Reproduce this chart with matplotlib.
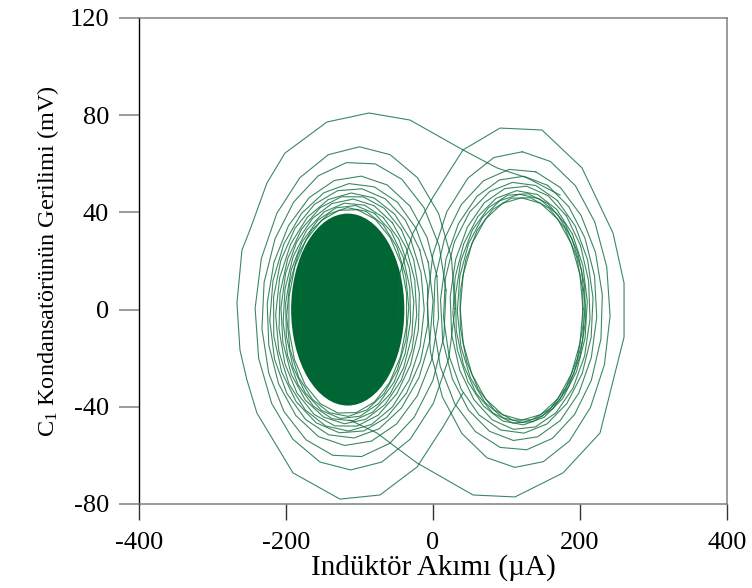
import numpy as np
import matplotlib
matplotlib.use("Agg")
import matplotlib.pyplot as plt
from matplotlib.patches import Ellipse

plt.rcParams['font.family'] = ['Liberation Serif', 'DejaVu Serif']
plt.rcParams['mathtext.fontset'] = 'custom'
plt.rcParams['mathtext.rm'] = 'Liberation Serif'

# eksen etiketleri
x_ticks = [-400, -200, 0, 200, 400]
y_ticks = [-80, -40, 0, 40, 80, 120]

# sol cekerdeki yogun bolge (merkez, genislik, yukseklik)
dense_center = (-116, 0)
dense_w = 154
dense_h = 79

# sol halka ailesi: sol kenar, sag kenar, tepe, dip, egiklik
left_xl = [-242, -233, -226, -222, -218, -214, -210, -207, -204, -201, -199, -197]
left_xr = [30, 18, 8, 0, -6, -12, -18, -22, -26, -30, -33, -35]
left_yt = [67, 61, 55, 52, 50, 48, 47, 45.5, 44, 43, 42, 41.5]
left_yb = [-66, -61, -56, -53, -51, -50, -48.5, -47, -46, -45, -44, -43]
left_sh = [6, 6, 5, 5, 4, 4, 4, 3, 3, 3, 3, 2]

# sag halka ailesi
right_xl = [37, 36, 33, 30, 27, 23, 14, 10, 0, -8]
right_xr = [204, 205, 207, 208, 210, 214, 218, 223, 231, 241]
right_yt = [46, 46.5, 47.5, 48, 49, 51, 52.5, 55, 58, 65]
right_yb = [-45.5, -46, -46.5, -47, -47.5, -49.5, -51, -54, -58, -65]

# dis yorunge 1 (sol buyuk halka ve saga gecis)
path1_x = [40.8, 13.6, -21.8, -72.1, -126.5, -190.5, -239.5, -253.1, -262.6,
           -266.7, -259.9, -249.0, -225.9, -201.4, -144.2, -87.1, -31.3, 40.8,
           87.1, 127.9, 172.8]
path1_y = [-34.3, -48.3, -64.8, -76.3, -78.0, -67.2, -42.6, -29.0, -16.7,
           2.7, 24.5, 32.8, 52.1, 64.4, 77.2, 80.9, 78.0, 65.7,
           58.3, 54.2, 47.1]

# dis yorunge 2 (sag buyuk halka ve sola gecis)
path2_x = [-47.6, -44.9, -27.2, 0, 40.8, 91.2, 148.3, 202.7, 244.9, 259.9,
           259.9, 227.2, 176.9, 111.6, 54.4, -21.8, -49.0, -76.2, -112.9]
path2_y = [-4.4, 15.1, 31.5, 46.3, 65.7, 74.7, 73.9, 58.3, 31.5, 10.9,
           -11.3, -50.8, -67.2, -77.1, -76.3, -63.1, -57.0, -50.8, -45.5]

color = '#0b6b3a'


def loop(xl, xr, yt, yb, sh, n, phase):
    t = np.linspace(0, 2 * np.pi, n + 1) + phase
    cx, a = (xl + xr) / 2, (xr - xl) / 2
    cy, b = (yt + yb) / 2, (yt - yb) / 2
    return cx + a * np.cos(t) + sh * np.sin(t), cy + b * np.sin(t)


fig = plt.figure(figsize=(7.52, 5.88), dpi=100)
ax = fig.add_axes([0.1848, 0.1429, 0.782, 0.8265])

ax.add_patch(Ellipse(dense_center, dense_w, dense_h, color='#006633', lw=0))

for i in range(len(left_xl)):
    x, y = loop(left_xl[i], left_xr[i], left_yt[i], left_yb[i], left_sh[i], 20, 0.13 * i)
    ax.plot(x, y, color=color, lw=0.8, alpha=0.8)

for i in range(len(right_xl)):
    x, y = loop(right_xl[i], right_xr[i], right_yt[i], right_yb[i], 0, 20, 0.17 * i)
    ax.plot(x, y, color=color, lw=0.8, alpha=0.8)

ax.plot(path1_x, path1_y, color=color, lw=0.8, alpha=0.8)
ax.plot(path2_x, path2_y, color=color, lw=0.8, alpha=0.8)

ax.set_xlim(-400, 400)
ax.set_ylim(-80, 120)
ax.set_xticks(x_ticks)
ax.set_yticks(y_ticks)
ax.set_xticklabels([str(v) for v in x_ticks])
ax.set_yticklabels([str(v) for v in y_ticks])

ax.tick_params(axis='y', direction='out', length=14.5, width=1.1, color='#808080',
               labelsize=19, pad=7)
ax.tick_params(axis='x', direction='out', length=11.5, width=1.0, color='#333333',
               labelsize=19, pad=9)

ax.spines['left'].set_color('black')
ax.spines['left'].set_linewidth(1.0)
for s in ['top', 'right', 'bottom']:
    ax.spines[s].set_color('#808080')
    ax.spines[s].set_linewidth(1.1)

ax.set_xlabel('Indüktör Akımı (µA)', fontsize=21, labelpad=0)
ax.set_ylabel('$\\mathrm{C_1}$ Kondansatörünün Gerilimi (mV)', fontsize=17.5, labelpad=6)

fig.savefig('out.png', dpi=100)
